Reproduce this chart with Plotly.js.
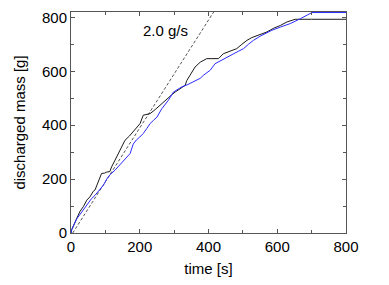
<!DOCTYPE html>
<html>
<head>
<meta charset="utf-8">
<script src="https://cdn.plot.ly/plotly-3.0.1.min.js"></script>
<style>html,body{margin:0;padding:0;background:#fff;}#plot{width:389px;height:285px;}</style>
</head>
<body>
<div id="plot"></div>
<script>
var blackTime = [0, 2, 12, 26, 36, 46, 55, 65, 70, 78, 84, 89, 97, 104, 113, 118, 128, 138, 152, 157, 170, 181, 191, 201, 210, 220, 230, 245, 259, 271, 283, 295, 303, 318, 332, 337, 349, 361, 376, 395, 410, 429, 443, 460, 482, 497, 512, 526, 541, 556, 570, 590, 609, 628, 652, 700, 800];
var blackMass = [0, 12, 41, 80, 98, 122, 134, 155, 160, 185, 210, 221, 222, 226, 228, 245, 270, 295, 332, 344, 360, 375, 392, 406, 437, 440, 443, 458, 474, 490, 505, 515, 523, 535, 548, 566, 590, 616, 634, 647, 647, 647, 665, 674, 684, 700, 715, 725, 733, 740, 746, 760, 770, 783, 793, 793, 793];

var blueTime = [0, 2, 17, 31, 41, 50, 60, 70, 80, 94, 104, 114, 128, 140, 148, 157, 165, 172, 181, 190, 200, 210, 220, 230, 240, 250, 264, 283, 298, 310, 322, 340, 356, 376, 385, 405, 419, 430, 444, 458, 473, 488, 502, 516, 531, 550, 567, 584, 609, 638, 667, 685, 701, 800];
var blueMass = [0, 12, 53, 78, 98, 113, 128, 140, 155, 177, 200, 217, 233, 250, 258, 270, 283, 295, 330, 345, 356, 369, 387, 406, 418, 430, 461, 492, 523, 533, 542, 551, 560, 574, 585, 604, 628, 636, 647, 656, 665, 675, 684, 700, 715, 730, 741, 752, 764, 777, 795, 806, 818, 818];

var rateTime = [5, 415];
var rateMass = [0, 820];

var xTickVals = [0, 200, 400, 600, 800];
var yTickVals = [0, 200, 400, 600, 800];
var rateLabel = '2.0 g/s';

var FONT = 'Liberation Sans, Arial, sans-serif';

var traces = [
  {x: rateTime, y: rateMass, mode: 'lines', line: {color: '#555', width: 1, dash: '3px,2px'}, hoverinfo: 'skip'},
  {x: blackTime, y: blackMass, mode: 'lines', line: {color: '#1a1a1a', width: 1, shape: 'linear'}},
  {x: blueTime, y: blueMass, mode: 'lines', line: {color: '#2b2bff', width: 1, shape: 'linear'}}
];

var axisCommon = {
  showgrid: false, zeroline: false, showline: true, linecolor: '#555', linewidth: 1,
  mirror: 'ticks', ticks: 'inside', ticklen: 4, tickcolor: '#555', tickwidth: 1,
  tickfont: {family: FONT, size: 15, color: '#000'},
  minor: {dtick: 100, ticks: 'inside', ticklen: 3, tickcolor: '#555', tickwidth: 1}
};

var layout = {
  width: 389, height: 285,
  margin: {l: 71, r: 43, t: 12, b: 52},
  paper_bgcolor: '#fff', plot_bgcolor: '#fff',
  showlegend: false,
  xaxis: Object.assign({}, axisCommon, {
    range: [0, 800], tickmode: 'array', tickvals: xTickVals,
    title: {text: 'time [s]', font: {family: FONT, size: 15, color: '#000'}, standoff: 9}
  }),
  yaxis: Object.assign({}, axisCommon, {
    range: [0, 820], tickmode: 'array', tickvals: yTickVals,
    title: {text: 'discharged mass [g]', font: {family: FONT, size: 15, color: '#000'}, standoff: 12}
  }),
  annotations: [{
    x: 274, y: 752, xref: 'x', yref: 'y', text: rateLabel, showarrow: false,
    font: {family: FONT, size: 15, color: '#000'}
  }]
};

Plotly.newPlot('plot', traces, layout, {staticPlot: true, displayModeBar: false});
</script>
</body>
</html>
